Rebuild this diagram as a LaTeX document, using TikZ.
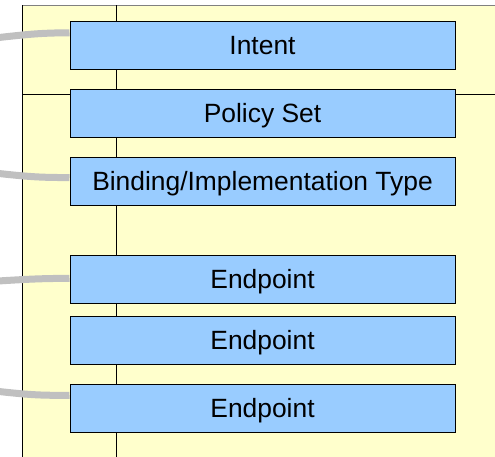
\documentclass[tikz,border=0pt]{standalone}
\usepackage{fontspec}
\setmainfont{Liberation Sans}
\usetikzlibrary{calc}
\definecolor{bgyellow}{HTML}{FFFFCC}
\definecolor{boxblue}{HTML}{99CCFF}
\definecolor{wiregray}{HTML}{C0C0C0}
\definecolor{topgray}{HTML}{808080}
\tikzset{
  boxnode/.style={draw=black, line width=1pt, fill=boxblue, inner sep=0pt,
    minimum width=385pt, minimum height=48pt, text height=18.9pt, text depth=0pt,
    font=\fontsize{26.4}{30}\selectfont},
  wire/.style={draw=wiregray, line width=7pt},
  guide/.style={draw=black, line width=1pt}
}
\begin{document}
\begin{tikzpicture}[x=1pt,y=-1pt]
\useasboundingbox (0,0) rectangle (495,456);
% background panel
\fill[bgyellow] (22,5) rectangle (520,480);
\draw[topgray, line width=1pt] (22,5) -- (520,5);
\draw[black, line width=1pt] (22,5) -- (22,480);
% guide lines
\draw[guide] (116,5) -- (116,480);
\draw[guide] (22,94) -- (520,94);
% boxes
\node[boxnode] (intent) at (262.5,45) {Intent};
\node[boxnode] (policy) at (262.5,113) {Policy Set};
\node[boxnode] (binding) at (262.5,181) {Binding/Implementation Type};
\node[boxnode] (ep1) at (262.5,279.3) {Endpoint};
\node[boxnode] (ep2) at (262.5,340) {Endpoint};
\node[boxnode] (ep3) at (262.5,408) {Endpoint};
% free ends
\coordinate (c1) at (-10,38.5);
\coordinate (c2) at (-10,172.5);
\coordinate (c3) at (-10,281.5);
\coordinate (c4) at (-10,390.5);
% wires
\draw[wire] (c1) .. controls (30,34) and (40,33) .. ($(intent.north west)!0.25!(intent.south west)$);
\draw[wire] (c2) .. controls (30,177) and (40,177.5) .. ($(binding.north west)!0.43!(binding.south west)$);
\draw[wire] (c3) .. controls (30,279) and (40,278.5) .. ($(ep1.north west)!0.48!(ep1.south west)$);
\draw[wire] (c4) .. controls (30,395) and (40,395.5) .. ($(ep3.north west)!0.24!(ep3.south west)$);
\end{tikzpicture}
\end{document}
